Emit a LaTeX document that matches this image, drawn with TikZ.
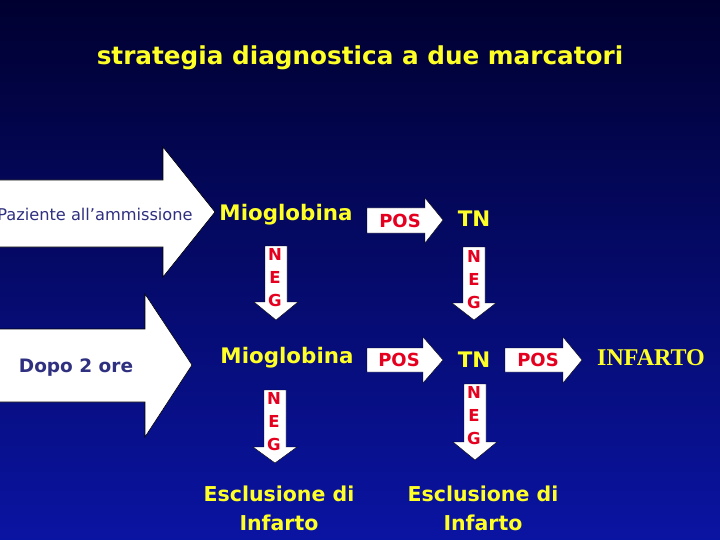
\documentclass[tikz,border=0pt]{standalone}
\usepackage{fontspec}
\setmainfont{DejaVu Sans}
\newfontfamily\serifbold{Liberation Serif}
\definecolor{bgtop}{RGB}{0,0,48}
\definecolor{bgbot}{RGB}{10,20,162}
\definecolor{ylw}{RGB}{255,255,40}
\definecolor{redtxt}{RGB}{228,0,30}
\definecolor{navytxt}{RGB}{48,48,128}
\begin{document}
\begin{tikzpicture}[x=1pt,y=-1pt,
  bigarrow/.style={fill=white,draw=black,line width=0.6pt},
  smallarrow/.style={fill=white,draw=black,line width=0.4pt},
  ytext/.style={text=ylw,font=\bfseries\fontsize{21.4}{26}\selectfont,inner sep=0pt},
  esc/.style={text=ylw,font=\bfseries\fontsize{20.5}{29}\selectfont,align=center,inner sep=0pt},
  postext/.style={text=redtxt,font=\bfseries\fontsize{18}{20}\selectfont,inner sep=0pt},
  negtext/.style={text=redtxt,font=\bfseries\fontsize{16.5}{23}\selectfont,align=center,inner sep=0pt},
  navy/.style={text=navytxt,inner sep=0pt}]
\useasboundingbox (0,0) rectangle (720,540);
\clip (0,0) rectangle (720,540);
\shade[top color=bgtop,bottom color=bgbot] (0,0) rectangle (720,540);

% title
\node[text=ylw,font=\bfseries\fontsize{24.7}{30}\selectfont,inner sep=0pt] (title) at (360,58) {strategia diagnostica a due marcatori};

% big arrows
\path[bigarrow] (-5,180) -- (163,180) -- (163,147) -- (215,212) -- (163,277) -- (163,247) -- (-5,247) -- cycle;
\node[navy,font=\fontsize{16.2}{18}\selectfont] (paz) at (95,214) {Paziente all’ammissione};
\path[bigarrow] (-5,329) -- (145,329) -- (145,294) -- (192,365) -- (145,437) -- (145,402) -- (-5,402) -- cycle;
\node[navy,font=\bfseries\fontsize{18.5}{20}\selectfont] (dopo) at (76,368) {Dopo 2 ore};

% row 1
\node[ytext] (mio1) at (286,215) {Mioglobina};
\path[smallarrow] (367,208) -- (425,208) -- (425,198) -- (443,220) -- (425,243) -- (425,233) -- (367,233) -- cycle;
\node[postext] (pos1) at (400,221) {POS};
\node[ytext] (tn1) at (474,219) {TN};

% NEG arrows row 1
\path[smallarrow] (265,246) -- (287,246) -- (287,302) -- (298,302) -- (276,320) -- (254,302) -- (265,302) -- cycle;
\node[negtext] (neg1) at (275,278) {N\\E\\G};
\path[smallarrow] (463,247) -- (485,247) -- (485,303) -- (496,303) -- (474,320) -- (452,303) -- (463,303) -- cycle;
\node[negtext] (neg2) at (474,280) {N\\E\\G};

% row 2
\node[ytext] (mio2) at (287,358) {Mioglobina};
\path[smallarrow] (367,348) -- (423,348) -- (423,337) -- (443,360) -- (423,383) -- (423,372) -- (367,372) -- cycle;
\node[postext] (pos2) at (399,360) {POS};
\node[ytext] (tn2) at (474,360) {TN};
\path[smallarrow] (505,348) -- (563,348) -- (563,337) -- (582,360) -- (563,383) -- (563,372) -- (505,372) -- cycle;
\node[postext] (pos3) at (538,360) {POS};
\node[text=ylw,font=\serifbold\bfseries\fontsize{24}{28}\selectfont,inner sep=0pt] (inf) at (651,358) {INFARTO};

% NEG arrows row 2
\path[smallarrow] (264,390) -- (286,390) -- (286,447) -- (297,447) -- (275,463) -- (253,447) -- (264,447) -- cycle;
\node[negtext] (neg3) at (274,422) {N\\E\\G};
\path[smallarrow] (464,384) -- (486,384) -- (486,442) -- (497,442) -- (475,460) -- (453,442) -- (464,442) -- cycle;
\node[negtext] (neg4) at (474,416) {N\\E\\G};

% exclusions
\node[esc] (esc1) at (279,508) {Esclusione di\\Infarto};
\node[esc] (esc2) at (483,508) {Esclusione di\\Infarto};
\end{tikzpicture}
\end{document}
